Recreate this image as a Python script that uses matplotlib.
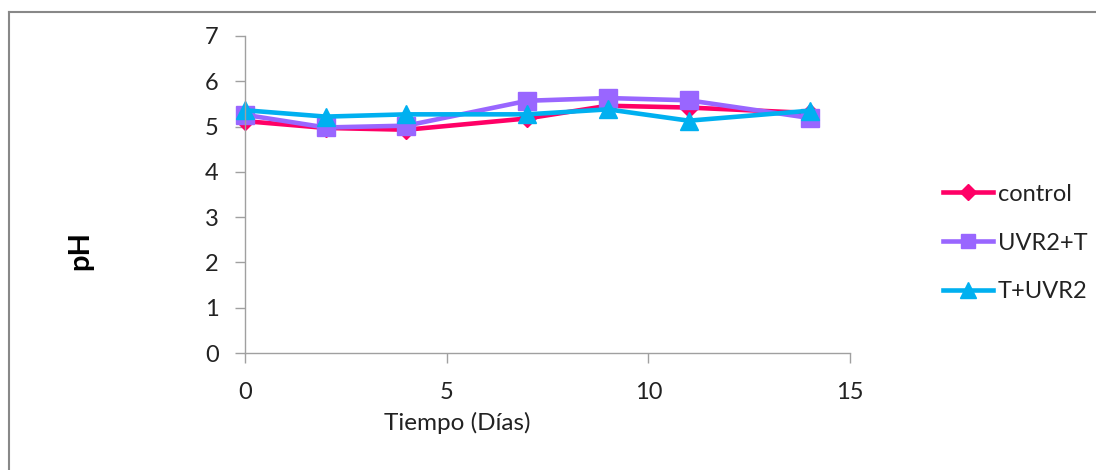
import matplotlib.pyplot as plt
from matplotlib.lines import Line2D

plt.rcParams['font.family'] = ['Lato', 'DejaVu Sans']

# Datos
dias = [0, 2, 4, 7, 9, 11, 14]
control = [5.12, 4.97, 4.93, 5.18, 5.46, 5.42, 5.30]
uvr2_t = [5.26, 4.98, 5.02, 5.57, 5.63, 5.58, 5.19]
t_uvr2 = [5.36, 5.22, 5.27, 5.27, 5.38, 5.13, 5.35]

series = [
    ('control', control, '#FF0066', 'D', 9),
    ('UVR2+T', uvr2_t, '#9966FF', 's', 12.5),
    ('T+UVR2', t_uvr2, '#00B0F0', '^', 13.5),
]

fig = plt.figure(figsize=(10.96, 4.70), dpi=100)
ax = fig.add_axes([245 / 1096, 1 - 353 / 470, 605 / 1096, 317 / 470])

for nombre, vals, color, marker, ms in series:
    ax.plot(dias, vals, color=color, lw=3.3, marker=marker, markersize=ms,
            label=nombre, clip_on=False)

ax.set_xlim(0, 15)
ax.set_ylim(0, 7)
ax.set_xticks([0, 5, 10, 15])
ax.set_yticks(range(8))
for s in ['top', 'right']:
    ax.spines[s].set_visible(False)
for s in ['left', 'bottom']:
    ax.spines[s].set_color('#A0A0A0')
    ax.spines[s].set_linewidth(1)
ax.tick_params(colors='#A0A0A0', labelcolor='#222222', length=7, width=1,
               labelsize=17, direction='out')
ax.tick_params(axis='x', pad=14)
ax.tick_params(axis='y', pad=12)

fig.text(80 / 1096, 1 - 250 / 470, 'pH', rotation=90, fontsize=21,
         fontweight='bold', ha='center', va='center')
fig.text(457 / 1096, 1 - 423 / 470, 'Tiempo (Días)', fontsize=17.5,
         ha='center', va='center', color='#222222')

handles = [Line2D([], [], color=c, lw=3.3, marker=m, markersize=ms * 0.85)
           for _, _, c, m, ms in series]
fig.legend(handles, [s[0] for s in series], loc='center left',
           bbox_to_anchor=(922 / 1096, 1 - 243 / 470), frameon=False,
           fontsize=17, handlelength=2.1, handletextpad=0.2,
           labelspacing=1.18, labelcolor='#222222')

# marco exterior (solo se ve arriba e izquierda)
fig.add_artist(Line2D([9 / 1096, 9 / 1096], [0, 1 - 12 / 470],
                      color='#888888', lw=1.5, transform=fig.transFigure))
fig.add_artist(Line2D([9 / 1096, 1], [1 - 12 / 470, 1 - 12 / 470],
                      color='#888888', lw=1.5, transform=fig.transFigure))

fig.savefig('out.png', dpi=100)
